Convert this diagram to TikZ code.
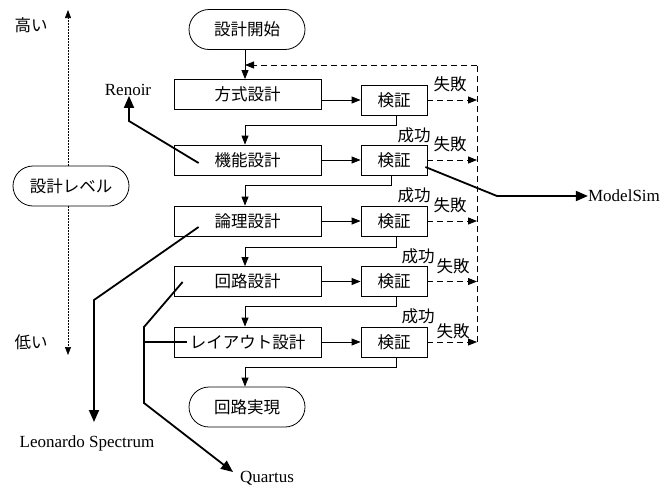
\documentclass[tikz,border=0pt]{standalone}
\usepackage{fontspec}
\setmainfont{Liberation Serif}
\newfontfamily\jp{Noto Sans CJK JP}
\usetikzlibrary{arrows.meta,calc}
\begin{document}
\begin{tikzpicture}[x=1pt,y=-1pt,
  jfont/.style={font=\jp\fontsize{16.5}{18}\selectfont},
  box/.style={draw,line width=0.8pt,minimum width=147pt,minimum height=30pt,inner sep=0pt,jfont},
  vbox/.style={draw,line width=0.8pt,minimum width=66pt,minimum height=30pt,inner sep=0pt,jfont},
  term/.style={draw,line width=0.8pt,rounded corners=20pt,minimum width=116pt,minimum height=40pt,inner sep=0pt,jfont},
  jlab/.style={inner sep=0pt,jfont},
  elab/.style={inner sep=0pt,font=\fontsize{17}{19}\selectfont},
  conn/.style={line width=0.8pt,-{Triangle[length=9pt,width=7pt]}},
  fail/.style={line width=0.8pt,dash pattern=on 6pt off 4pt},
  tool/.style={line width=1.8pt,-{Triangle[length=12pt,width=10pt]}},
  toolline/.style={line width=1.8pt}]
\useasboundingbox (0,0) rectangle (664,485);
% nodes
\node[term] (start) at (247,29.5) {設計開始};
\node[box] (b1) at (247.5,94.5) {方式設計};
\node[vbox] (v1) at (394,100) {検証};
\node[box] (b2) at (247.5,160) {機能設計};
\node[vbox] (v2) at (394,160) {検証};
\node[box] (b3) at (247.5,221) {論理設計};
\node[vbox] (v3) at (394,221) {検証};
\node[box] (b4) at (247.5,281.5) {回路設計};
\node[vbox] (v4) at (394,281.5) {検証};
\node[box] (b5) at (247.5,342) {レイアウト設計};
\node[vbox] (v5) at (394,342) {検証};
\node[term] (end) at (247,407) {回路実現};
\node[term] (level) at (71,186) {設計レベル};
\node[jlab] (high) at (31,25) {高い};
\node[jlab] (low) at (31,342) {低い};
% success / fail labels
\node[jlab] (s1) at (414,135) {成功};
\node[jlab] (s2) at (414,195.5) {成功};
\node[jlab] (s3) at (418,256) {成功};
\node[jlab] (s4) at (418,316) {成功};
\node[jlab] (f1) at (450,84) {失敗};
\node[jlab] (f2) at (450,144.5) {失敗};
\node[jlab] (f3) at (450,205.5) {失敗};
\node[jlab] (f4) at (453,266) {失敗};
\node[jlab] (f5) at (453,331) {失敗};
% tool labels
\node[elab] (renoir) at (128,90) {Renoir};
\node[elab] (modelsim) at (624,196) {ModelSim};
\node[elab] (leo) at (87,443) {Leonardo Spectrum};
\node[elab] (quartus) at (267,478) {Quartus};
% main flow
\draw[conn] (start.south -| 245,0) -- (b1.north -| 245,0);
\draw[conn] (b1.east |- v1.west) -- (v1.west);
\draw[conn] (b2.east) -- (v2.west);
\draw[conn] (b3.east) -- (v3.west);
\draw[conn] (b4.east) -- (v4.west);
\draw[conn] (b5.east) -- (v5.west);
\coordinate (c1) at (245,125);
\coordinate (c2) at (245,185);
\coordinate (c3) at (245,247);
\coordinate (c4) at (245,306);
\coordinate (c5) at (245,367);
\draw[conn] ([xshift=2pt]v1.south) |- (c1) -- (c1 |- b2.north);
\draw[conn] ([xshift=-3pt]v2.south) |- (c2) -- (c2 |- b3.north);
\draw[conn] ([xshift=2pt]v3.south) |- (c3) -- (c3 |- b4.north);
\draw[conn] ([xshift=2pt]v4.south) |- (c4) -- (c4 |- b5.north);
\draw[conn] ([xshift=2pt]v5.south) |- (c5) -- (c5 |- end.north);
% fail loop
\coordinate (ftop) at (477,65);
\coordinate (fbot) at (477,342);
\coordinate (fret) at (245,65);
\draw[fail] (fbot) -- (ftop);
\draw[fail,-{Triangle[length=9pt,width=7pt]}] (ftop) -- (fret);
\draw[fail,-{Triangle[length=9pt,width=7pt]}] (v1.east) -- (v1.east -| ftop);
\draw[fail,-{Triangle[length=9pt,width=7pt]}] (v2.east) -- (v2.east -| ftop);
\draw[fail,-{Triangle[length=9pt,width=7pt]}] (v3.east) -- (v3.east -| ftop);
\draw[fail,-{Triangle[length=9pt,width=7pt]}] (v4.east) -- (v4.east -| ftop);
\draw[fail,-{Triangle[length=9pt,width=7pt]}] (v5.east) -- (v5.east -| ftop);
% level axis
\coordinate (atop) at (68,10);
\coordinate (abot) at (68,355);
\draw[line width=0.7pt,dash pattern=on 1.5pt off 1.5pt,-{Triangle[length=8pt,width=6pt]}] (level.north -| atop) -- (atop);
\draw[line width=0.7pt,dash pattern=on 1.5pt off 1.5pt,-{Triangle[length=8pt,width=6pt]}] (level.south -| abot) -- (abot);
% tools
\draw[tool] ($(b2.west)+(25,3)$) -- (129,121) -- (renoir.south -| 129,0);
\draw[tool] ($(v2.east)+(-2,7)$) -- (497,196) -- (modelsim.west);
\coordinate (leotip) at (94,422);
\draw[tool] ($(b3.west)+(25,6)$) -- (94,300) -- (leotip);
\coordinate (qtip) at (233,472);
\draw[tool] ($(b4.west)+(9,0.5)$) -- (144,327) -- (144,403) -- (qtip);
\draw[toolline] (144,342) -- ($(b5.west)+(13,0)$);
\end{tikzpicture}
\end{document}
